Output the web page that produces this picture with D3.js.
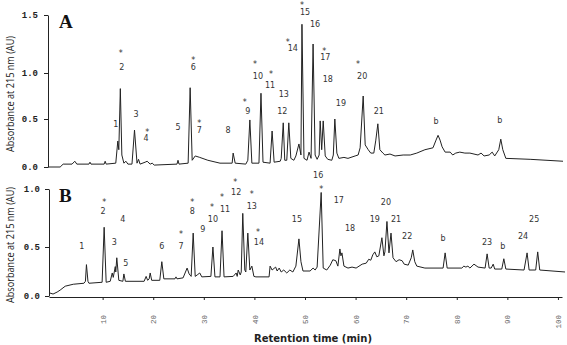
<!DOCTYPE html>
<html><head><meta charset="utf-8">
<script src="https://cdn.jsdelivr.net/npm/d3@7"></script>
<style>body{margin:0;background:#fff}</style></head>
<body><svg id="c" width="567" height="345"></svg>
<script>
// ---- Panel A trace (retention time, min / absorbance, AU) ----
const timeA = [-0.8,1.6,2.2,3.95,4.5,4.9,7.3,7.5,7.7,10.3,10.5,10.7,12.6,13.0,13.2,13.5,13.8,14.2,14.6,15.0,15.8,16.3,16.8,17.1,17.4,18.4,18.8,19.4,19.8,20.2,24.7,24.9,25.1,26.9,27.3,27.7,28.3,29.2,30.8,33.2,35.6,35.8,36.2,38.3,38.7,39.1,39.5,40.9,41.3,41.7,43.1,43.5,43.9,45.1,45.3,45.7,46.0,46.4,46.8,47.2,47.8,48.2,48.8,49.2,49.4,49.8,50.4,50.8,51.2,51.6,52.0,52.4,52.8,53.0,53.3,53.6,54.0,54.5,55.3,55.6,55.9,56.3,56.7,57.7,58.5,59.9,60.5,60.9,61.5,61.9,62.5,63.0,63.6,64.0,64.4,64.8,65.4,65.8,66.8,67.8,69.4,70.8,72.1,73.7,75.3,75.9,76.3,76.7,77.1,77.7,78.7,79.2,79.8,80.6,81.6,82.6,84.2,84.8,85.4,86.4,87.0,87.5,88.3,88.7,89.1,89.7,94.5,101.0];
const absA = [0.0,0.0,0.03,0.03,0.06,0.03,0.03,0.05,0.03,0.03,0.06,0.03,0.04,0.27,0.18,0.83,0.125,0.04,0.06,0.03,0.03,0.385,0.04,0.08,0.03,0.05,0.06,0.03,0.04,0.02,0.03,0.07,0.03,0.04,0.84,0.07,0.115,0.10,0.07,0.04,0.04,0.145,0.04,0.03,0.07,0.49,0.04,0.04,0.78,0.05,0.04,0.375,0.05,0.06,0.09,0.46,0.07,0.07,0.46,0.09,0.07,0.115,0.24,0.125,1.42,0.09,0.07,0.155,0.09,1.25,0.125,0.08,0.125,0.48,0.18,0.48,0.115,0.08,0.07,0.125,0.5,0.145,0.09,0.10,0.09,0.115,0.125,0.2,0.75,0.23,0.18,0.145,0.145,0.28,0.45,0.18,0.145,0.125,0.135,0.115,0.125,0.125,0.145,0.18,0.2,0.28,0.33,0.28,0.21,0.155,0.155,0.125,0.145,0.155,0.145,0.145,0.125,0.145,0.115,0.125,0.155,0.115,0.18,0.29,0.18,0.09,0.08,0.06];

// ---- Panel B trace ----
const timeB = [-0.4,0.2,1.0,1.6,2.6,4.2,6.3,6.6,6.8,7.1,7.3,9.9,10.3,10.7,11.5,11.9,12.1,12.5,12.6,12.8,13.2,14.0,14.2,14.5,18.2,18.6,18.9,19.2,19.4,19.7,21.3,21.7,22.1,24.3,24.5,24.7,25.9,26.7,27.1,27.5,27.9,28.3,28.7,29.2,29.6,31.4,31.8,32.2,33.2,33.6,34.0,35.8,36.4,36.6,36.8,37.2,37.4,37.7,38.1,38.3,38.7,39.1,39.5,39.9,40.3,42.9,43.1,43.5,44.2,44.5,44.9,45.3,45.8,46.4,47.0,47.6,48.2,48.8,49.2,49.6,51.0,51.6,52.0,52.4,53.2,53.6,54.3,55.0,55.5,56.1,56.5,56.9,57.1,57.3,57.7,58.5,59.3,60.1,61.3,62.1,62.6,63.0,63.4,63.8,64.2,64.6,65.2,65.6,65.8,66.2,66.6,67.0,67.4,68.0,68.6,69.2,69.6,70.4,71.0,71.3,71.7,72.1,73.7,77.3,77.7,78.1,81.0,81.4,81.8,82.2,82.6,83.4,84.2,85.6,86.0,86.4,86.8,87.2,87.5,88.9,89.3,89.7,93.3,93.9,94.3,95.6,96.0,96.4,101.4];
const absB = [0.03,0.02,0.04,0.06,0.10,0.12,0.13,0.15,0.32,0.15,0.13,0.14,0.67,0.14,0.15,0.235,0.19,0.30,0.245,0.39,0.16,0.15,0.225,0.15,0.15,0.20,0.16,0.175,0.235,0.16,0.16,0.35,0.175,0.175,0.195,0.175,0.185,0.285,0.225,0.2,0.62,0.2,0.215,0.235,0.195,0.2,0.5,0.195,0.195,0.64,0.195,0.2,0.235,0.2,0.265,0.215,0.245,0.79,0.265,0.245,0.62,0.265,0.305,0.2,0.195,0.195,0.305,0.265,0.295,0.255,0.285,0.245,0.265,0.235,0.265,0.245,0.305,0.57,0.35,0.255,0.255,0.285,0.265,0.295,0.97,0.285,0.265,0.315,0.37,0.36,0.305,0.48,0.41,0.44,0.305,0.285,0.295,0.285,0.325,0.335,0.375,0.365,0.42,0.45,0.40,0.41,0.58,0.41,0.45,0.72,0.44,0.62,0.39,0.35,0.37,0.36,0.325,0.315,0.39,0.47,0.35,0.305,0.285,0.285,0.44,0.285,0.285,0.305,0.295,0.305,0.285,0.325,0.295,0.285,0.43,0.285,0.285,0.325,0.275,0.275,0.38,0.275,0.265,0.44,0.265,0.265,0.45,0.265,0.245];

// ---- Peak annotations (text, retention time, absorbance) ----
const peakTextA = ["1","*","2","3","*","4","5","*","6","*","7","8","*","9","*","10","*","11","13","12","*","14","*","15","16","*","17","18","19","*","20","21","b","b"];
const peakTimeA = [12.6,13.6,13.8,16.6,18.8,18.6,24.9,27.9,27.9,29.1,29.1,34.8,38.1,38.7,40.1,40.7,43.3,43.1,45.8,45.5,46.6,47.6,49.4,50.0,52.0,53.8,54.0,54.5,57.1,60.5,61.3,64.6,75.9,88.5];
const peakAbsA  = [0.45,1.18,1.05,0.55,0.375,0.30,0.41,1.12,1.05,0.47,0.385,0.385,0.70,0.58,1.09,0.97,1.0,0.87,0.77,0.58,1.28,1.21,1.60,1.52,1.42,1.20,1.14,0.93,0.67,1.09,0.97,0.58,0.48,0.49];

const peakTextB = ["1","*","2","4","3","5","6","*","7","*","8","9","*","10","*","11","*","12","*","13","*","14","15","16","*","17","18","19","20","21","22","b","23","b","24","25"];
const peakTimeB = [5.9,10.3,10.1,14.0,12.3,14.6,21.7,25.5,25.5,27.7,27.7,29.8,31.6,31.8,33.6,34.2,36.2,36.4,39.5,39.5,40.7,40.9,48.4,52.6,53.2,56.7,58.9,63.8,66.0,68.0,70.2,77.3,86.0,89.1,93.1,95.3];
const peakAbsB  = [0.51,0.90,0.81,0.74,0.54,0.33,0.51,0.62,0.51,0.90,0.81,0.655,0.86,0.74,0.94,0.83,1.07,0.97,0.965,0.855,0.64,0.54,0.74,1.12,1.01,0.90,0.66,0.74,0.89,0.74,0.59,0.58,0.54,0.51,0.59,0.74];

const yTicksA = [0.0,0.5,1.0,1.5];
const yTicksB = [0.0,0.5,1.0];
const xTicks = [10,20,30,40,50,60,70,80,90,100];

// ---- drawing ----
const svg = d3.select("#c");
const x  = d3.scaleLinear().domain([-0.6,100.8]).range([49,562]);
const yA = d3.scaleLinear().domain([0,0.5,1.0,1.5]).range([167,119,73,15]);
const yB = d3.scaleLinear().domain([0,0.5,1.0]).range([296,247,189]);

function styleYAxis(g){
  g.selectAll("path,line").attr("stroke","#222").attr("stroke-width",1);
  g.selectAll("text").attr("font-family","'Liberation Mono', monospace").attr("font-weight","bold").attr("font-size",9).attr("fill","#222");
}
const axA = svg.append("g").attr("transform","translate(48,0)")
  .call(d3.axisLeft(yA).tickValues(yTicksA).tickFormat(d3.format(".1f")).tickSize(4).tickSizeOuter(0).tickPadding(6));
styleYAxis(axA);
const axB = svg.append("g").attr("transform","translate(49,0)")
  .call(d3.axisLeft(yB).tickValues(yTicksB).tickFormat(d3.format(".1f")).tickSize(4).tickSizeOuter(0).tickPadding(5));
styleYAxis(axB);

const axX = svg.append("g").attr("transform","translate(0,297)")
  .call(d3.axisBottom(x).tickValues(xTicks).tickSize(3).tickSizeOuter(0));
axX.selectAll("path,line").attr("stroke","#222");
axX.selectAll("text").attr("font-family","'Liberation Mono', monospace").attr("font-size",7.5).attr("fill","#666")
  .attr("text-anchor","end").attr("y",0).attr("dy","0.35em").attr("transform","translate(0,18) rotate(-90)");

const lineA = d3.line().x(d=>x(d[0])).y(d=>yA(d[1]));
const lineB = d3.line().x(d=>x(d[0])).y(d=>yB(d[1]));
svg.append("path").attr("d", lineA(d3.zip(timeA,absA))).attr("fill","none").attr("stroke","#222").attr("stroke-width",1).attr("stroke-linejoin","round");
svg.append("path").attr("d", lineB(d3.zip(timeB,absB))).attr("fill","none").attr("stroke","#222").attr("stroke-width",1).attr("stroke-linejoin","round");

function labels(texts, times, vals, ys){
  svg.append("g").selectAll("text").data(texts).join("text")
    .attr("x",(d,i)=>x(times[i])).attr("y",(d,i)=>ys(vals[i]) + (d==="*"?1.5:0))
    .attr("dy","0.35em").attr("text-anchor","middle")
    .attr("font-family","'DejaVu Sans', sans-serif").attr("font-size",d=>d==="*"?8:8).attr("fill","#333")
    .text(d=>d);
}
labels(peakTextA, peakTimeA, peakAbsA, yA);
labels(peakTextB, peakTimeB, peakAbsB, yB);

svg.append("text").attr("x",59).attr("y",28).attr("font-family","'Liberation Serif', serif").attr("font-weight","bold").attr("font-size",19).attr("fill","#111").text("A");
svg.append("text").attr("x",59).attr("y",202).attr("font-family","'Liberation Serif', serif").attr("font-weight","bold").attr("font-size",19).attr("fill","#111").text("B");

[94,245].forEach(cy=>{
  svg.append("text").attr("transform",`translate(14,${cy}) rotate(-90)`).attr("text-anchor","middle")
    .attr("font-family","'Open Sans', sans-serif").attr("font-size",11).attr("fill","#222")
    .attr("textLength",116).attr("lengthAdjust","spacingAndGlyphs").text("Absorbance at 215 nm (AU)");
});

svg.append("text").attr("x",313).attr("y",342).attr("text-anchor","middle")
  .attr("font-family","'DejaVu Sans', sans-serif").attr("font-weight","bold").attr("font-size",10).attr("fill","#222")
  .attr("textLength",118).attr("lengthAdjust","spacingAndGlyphs").text("Retention time (min)");
</script></body></html>
